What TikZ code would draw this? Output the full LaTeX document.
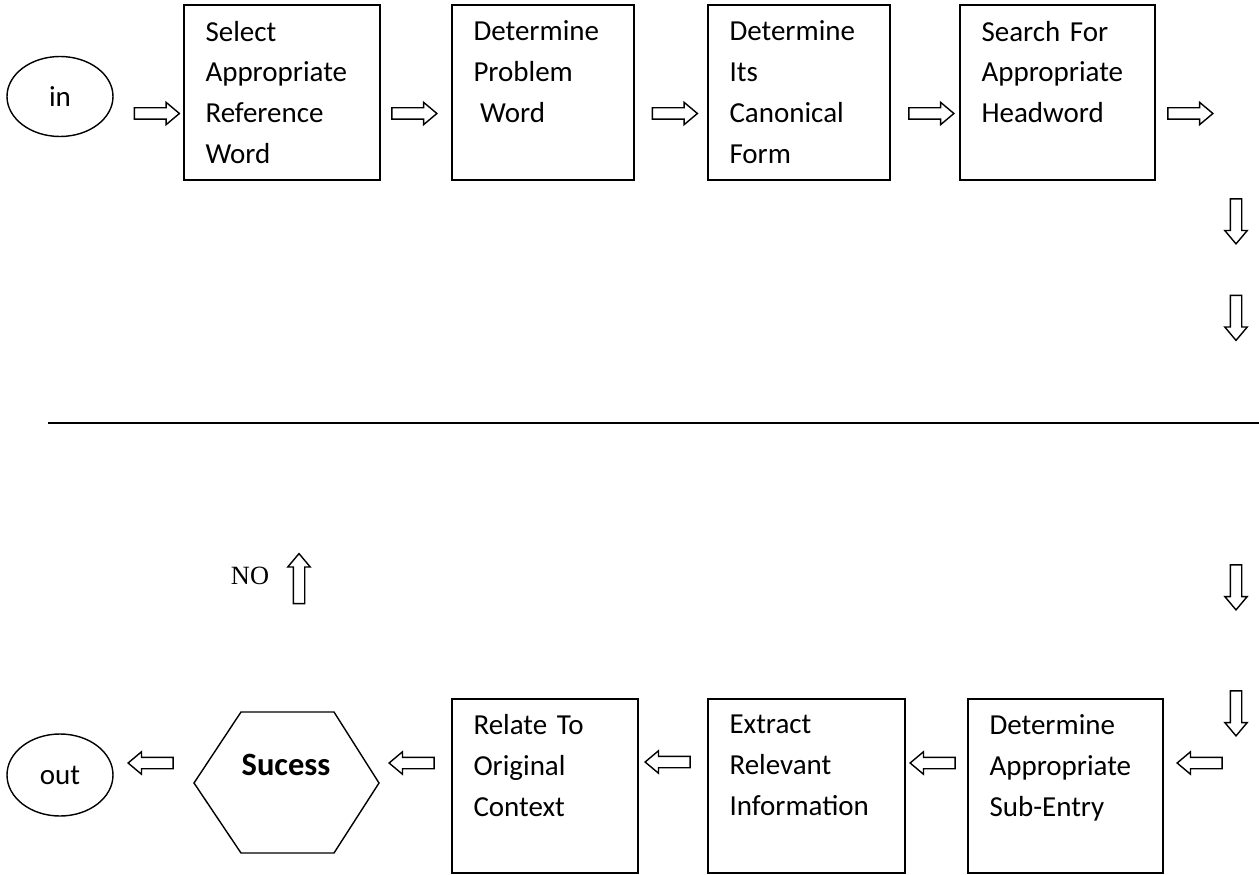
\documentclass[tikz,border=0pt]{standalone}
\usepackage{fontspec}
\setmainfont{Carlito}
\newfontfamily\timesfont{Liberation Serif}
\usetikzlibrary{shapes.geometric,shapes.arrows}

\begin{document}
\begin{tikzpicture}[
    thick,
    font = \fontsize{16.5pt}{23.3pt}\selectfont,
    box/.style = {
      draw,
      rectangle,
      align = left,
      inner xsep = 0.43cm,
      inner ysep = 0pt,
      minimum height = 3.5cm,
      text width = #1
    },
    oval/.style = {
      draw,
      ellipse,
      inner sep = 0pt,
      minimum width = 2.12cm,
      minimum height = 1.6cm
    },
    blk/.style = {
      draw,
      single arrow,
      inner xsep = 0pt,
      inner ysep = 0.1cm,
      minimum height = 0.9cm,
      minimum width = 0.42cm,
      single arrow head extend = 0.11cm,
      single arrow tip angle = 80
    }
  ]
  \useasboundingbox (0,0) rectangle (25.18,-17.5);

  % upper row
  \node[oval] (in) at (1.20,-1.93) {in};
  \node[box=3.06cm] (select) at (5.64,-1.85)
    {Select\\Appropriate\\Reference\\Word};
  \node[box=2.78cm] (problem) at (10.86,-1.85)
    {Determine\\Problem\\\hspace*{.23em}Word\\\phantom{Word}};
  \node[box=2.78cm] (canon) at (15.98,-1.85)
    {Determine\\Its\\Canonical\\Form};
  \node[box=3.04cm] (search) at (21.15,-1.85)
    {Search For\\Appropriate\\Headword\\\phantom{Word}};

  \node[blk] (a1) at (3.07,-2.27) {};
  \node[blk] (a2) at (8.22,-2.27) {};
  \node[blk] (a3) at (13.43,-2.27) {};
  \node[blk] (a4) at (18.56,-2.27) {};
  \node[blk] (a5) at (23.74,-2.27) {};

  \node[blk,rotate=-90] (d1) at (24.72,-4.36) {};
  \node[blk,rotate=-90] (d2) at (24.72,-6.29) {};

  \coordinate (cutl) at (0.96,-8.46);
  \coordinate (cutr) at (25.18,-8.46);
  \draw (cutl) -- (cutr);

  \node[blk,rotate=-90] (d3) at (24.72,-11.68) {};
  \node[blk,rotate=-90] (d4) at (24.72,-14.20) {};

  \node[blk,rotate=90,minimum height=1cm,minimum width=0.4cm] (up) at (5.98,-11.64) {};
  \node[font=\timesfont\fontsize{15pt}{18pt}\selectfont,inner sep=0pt] (no) at (5.00,-11.51) {NO};

  % lower row
  \node[box=3.04cm,minimum height=3.48cm] (subentry) at (21.31,-15.72)
    {Determine\\Appropriate\\Sub-Entry\\\phantom{Word}};
  \node[box=3.08cm,minimum height=3.48cm] (extract) at (16.13,-15.72)
    {Extract\\Relevant\\Information\\\phantom{Word}};
  \node[box=2.86cm,minimum height=3.48cm] (relate) at (10.90,-15.72)
    {Relate To\\Original\\Context\\\phantom{Word}};

  \coordinate (hw) at (3.88,-15.66);
  \coordinate (hnw) at (4.82,-14.24);
  \coordinate (hne) at (6.68,-14.24);
  \coordinate (he) at (7.58,-15.66);
  \coordinate (hse) at (6.68,-17.06);
  \coordinate (hsw) at (4.82,-17.06);
  \draw (hw) -- (hnw) -- (hne) -- (he) -- (hse) -- (hsw) -- cycle;
  \node[font=\bfseries\fontsize{18.5pt}{22pt}\selectfont] (success) at (5.72,-15.30) {Sucess};

  \node[oval,minimum height=1.64cm] (out) at (1.20,-15.50) {out};

  \node[blk,rotate=180] (b1) at (3.08,-15.26) {};
  \node[blk,rotate=180] (b2) at (8.30,-15.26) {};
  \node[blk,rotate=180] (b3) at (13.42,-15.24) {};
  \node[blk,rotate=180] (b4) at (18.72,-15.26) {};
  \node[blk,rotate=180] (b5) at (24.06,-15.26) {};
\end{tikzpicture}
\end{document}
